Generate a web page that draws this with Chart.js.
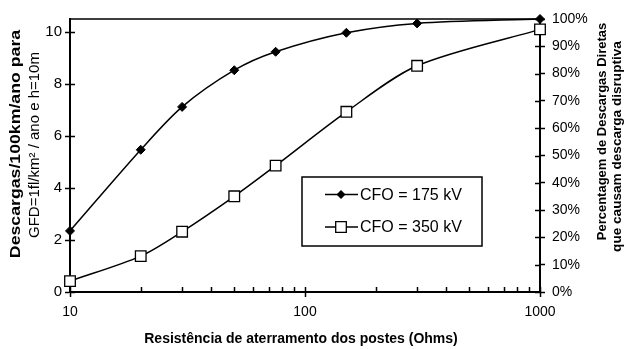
<!DOCTYPE html>
<html><head><meta charset="utf-8">
<script src="https://cdn.jsdelivr.net/npm/chart.js@4/dist/chart.umd.min.js"></script>
<style>html,body{margin:0;padding:0;background:#fff;}#wrap{width:629px;height:349px;position:relative;}canvas{display:block;}</style>
</head><body><div id="wrap"><canvas id="c" width="629" height="349"></canvas></div>
<script>
const resistance = [10, 20, 30, 50, 75, 150, 300, 1000];
const cfo175 = [2.35, 5.47, 7.12, 8.53, 9.24, 9.97, 10.33, 10.5];
const cfo350 = [0.42, 1.38, 2.32, 3.68, 4.86, 6.93, 8.70, 10.1];
const seriesNames = ['CFO = 175 kV', 'CFO = 350 kV'];
const xTickValues = [10, 20, 30, 40, 50, 60, 70, 80, 90, 100, 200, 300, 400, 500, 600, 700, 800, 900, 1000];
const xLabelValues = [10, 100, 1000];
const yTickValues = [0, 2, 4, 6, 8, 10];
const y2TickValues = [0, 10, 20, 30, 40, 50, 60, 70, 80, 90, 100];
const xTitle = 'Resistência de aterramento dos postes (Ohms)';
const yTitle = ['Descargas/100km/ano para', 'GFD=1fl/km² / ano e h=10m'];
const y2Title = ['Percentagem de Descargas Diretas', 'que causam descarga disruptiva'];

const FONT = '"Liberation Sans", Arial, sans-serif';

function pts(vals) { return resistance.map((r, i) => ({ x: r, y: vals[i] })); }

const innerTicks = {
  id: 'innerTicks',
  beforeDatasetsDraw(chart) {
    const ctx = chart.ctx, ca = chart.chartArea;
    ctx.save();
    ctx.strokeStyle = '#000';
    ctx.lineWidth = 1.5;
    ctx.beginPath();
    ctx.moveTo(ca.left, ca.top); ctx.lineTo(ca.right, ca.top);
    const y = chart.scales.y, y2 = chart.scales.y2, x = chart.scales.x;
    y.ticks.forEach(t => { const p = Math.round(y.getPixelForValue(t.value)) + 0.5; ctx.moveTo(ca.left, p); ctx.lineTo(ca.left + 5, p); });
    y2.ticks.forEach(t => { const p = Math.round(y2.getPixelForValue(t.value)) + 0.5; ctx.moveTo(ca.right - 5, p); ctx.lineTo(ca.right, p); });
    x.ticks.forEach(t => { const p = Math.round(x.getPixelForValue(t.value)) + 0.5; ctx.moveTo(p, ca.bottom - 5); ctx.lineTo(p, ca.bottom); });
    ctx.stroke();
    ctx.restore();
  }
};

function vText(ctx, txt, cx, cy, font, sx) {
  ctx.save();
  ctx.translate(cx, cy);
  ctx.rotate(-Math.PI / 2);
  ctx.scale(sx || 1, 1);
  ctx.font = font;
  ctx.textAlign = 'center';
  ctx.textBaseline = 'middle';
  ctx.fillText(txt, 0, 0);
  ctx.restore();
}

const titlesAndLegend = {
  id: 'titlesAndLegend',
  afterDraw(chart) {
    const ctx = chart.ctx, ca = chart.chartArea;
    ctx.save();
    ctx.fillStyle = '#000';
    // x title
    ctx.font = 'bold 14px ' + FONT;
    ctx.textAlign = 'center';
    ctx.textBaseline = 'middle';
    ctx.fillText(xTitle, 301, 339);
    // left title
    vText(ctx, yTitle[0], 15.5, 144, 'bold 15px ' + FONT, 1.18);
    vText(ctx, yTitle[1], 35, 145, '15px ' + FONT, 1);
    // right title
    vText(ctx, y2Title[0], 602.5, 131.5, 'bold 13px ' + FONT, 1);
    vText(ctx, y2Title[1], 617, 146.5, 'bold 13.6px ' + FONT, 1);

    // legend box
    const bx = ca.left + 232, by = ca.top + 158, bw = 180, bh = 69;
    ctx.strokeStyle = '#000';
    ctx.lineWidth = 1.5;
    ctx.strokeRect(bx, by, bw, bh);
    const rows = [by + 17.5, by + 50];
    chart.data.datasets.forEach((ds, i) => {
      const ry = rows[i];
      ctx.beginPath();
      ctx.lineWidth = 1.5;
      ctx.moveTo(bx + 23, ry); ctx.lineTo(bx + 56, ry);
      ctx.stroke();
      const mx = bx + 39;
      ctx.beginPath();
      if (ds.pointStyle === 'rectRot') {
        const r = ds.pointRadius;
        ctx.moveTo(mx - r, ry); ctx.lineTo(mx, ry - r); ctx.lineTo(mx + r, ry); ctx.lineTo(mx, ry + r); ctx.closePath();
        ctx.fillStyle = '#000'; ctx.fill();
      } else {
        const s = ds.pointRadius * Math.SQRT1_2;
        ctx.rect(mx - s, ry - s, 2 * s, 2 * s);
        ctx.fillStyle = '#fff'; ctx.fill();
        ctx.lineWidth = 1.3; ctx.stroke();
      }
      ctx.fillStyle = '#000';
      ctx.font = '16px ' + FONT;
      ctx.textAlign = 'left';
      ctx.textBaseline = 'middle';
      ctx.fillText(ds.label, bx + 58, ry + 1);
    });
    ctx.restore();
  }
};

new Chart(document.getElementById('c'), {
  type: 'line',
  data: {
    datasets: [
      { label: seriesNames[0], data: pts(cfo175), borderColor: '#000', backgroundColor: '#000', borderWidth: 1.5,
        pointStyle: 'rectRot', pointRadius: 4.5, pointBorderWidth: 1, pointBackgroundColor: '#000', pointBorderColor: '#000',
        tension: 0.3, clip: false, yAxisID: 'y' },
      { label: seriesNames[1], data: pts(cfo350), borderColor: '#000', backgroundColor: '#fff', borderWidth: 1.5,
        pointStyle: 'rect', pointRadius: 7.5, pointBorderWidth: 1.3, pointBackgroundColor: '#fff', pointBorderColor: '#000',
        tension: 0.3, clip: false, yAxisID: 'y' }
    ]
  },
  options: {
    responsive: false,
    animation: false,
    devicePixelRatio: 1,
    layout: { padding: { top: 19, left: 0, right: 0, bottom: 0 } },
    plugins: { legend: { display: false }, tooltip: { enabled: false } },
    scales: {
      x: {
        type: 'logarithmic', min: 10, max: 1000,
        afterBuildTicks(s) { s.ticks = xTickValues.map(v => ({ value: v, major: xLabelValues.includes(v) })); },
        afterFit(s) { s.height = 57; },
        ticks: { autoSkip: false, maxRotation: 0, padding: 7, color: '#000', font: { family: FONT, size: 14 },
          callback(v) { return xLabelValues.includes(v) ? String(v) : ''; } },
        grid: { z: -1, drawOnChartArea: false, tickLength: 5, tickWidth: 1.5,
          tickColor: c => (c.tick && xLabelValues.includes(c.tick.value)) ? '#000' : 'rgba(0,0,0,0)' },
        border: { display: true, color: '#000', width: 2 }
      },
      y: {
        position: 'left', min: 0, max: 10.5,
        afterBuildTicks(s) { s.ticks = yTickValues.map(v => ({ value: v })); },
        afterFit(s) { s.width = 70; },
        ticks: { padding: 3, color: '#000', font: { family: FONT, size: 15 } },
        grid: { z: -1, drawOnChartArea: false, tickLength: 5, tickWidth: 1.5, tickColor: '#000' },
        border: { display: true, color: '#000', width: 2 }
      },
      y2: {
        position: 'right', min: 0, max: 100,
        afterBuildTicks(s) { s.ticks = y2TickValues.map(v => ({ value: v })); },
        afterFit(s) { s.width = 89; },
        ticks: { padding: 7, color: '#000', font: { family: FONT, size: 14 }, callback: v => v + '%' },
        grid: { z: -1, drawOnChartArea: false, tickLength: 5, tickWidth: 1.5, tickColor: '#000' },
        border: { display: true, color: '#000', width: 2 }
      }
    }
  },
  plugins: [innerTicks, titlesAndLegend]
});
</script>
</body></html>
